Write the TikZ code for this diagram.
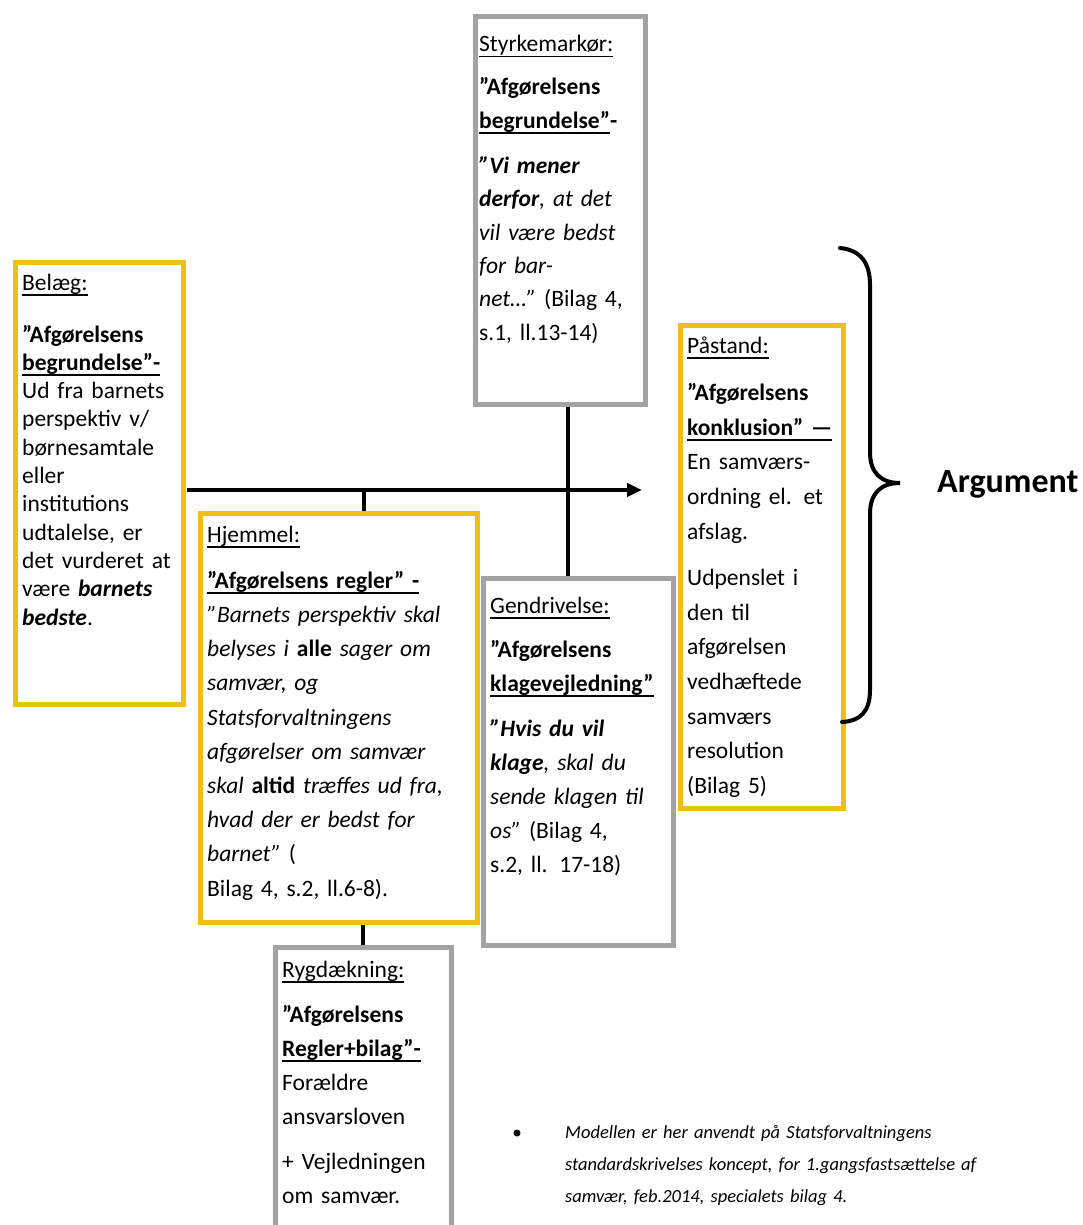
\documentclass[tikz,border=0pt]{standalone}
\usepackage{fontspec}
\setmainfont{Carlito}
\usetikzlibrary{arrows.meta}

\definecolor{gold}{RGB}{240,190,20}
\definecolor{framegrey}{RGB}{163,163,163}

% underline at a fixed depth below the baseline
\newcommand\uln[1]{\leavevmode\setbox0\hbox{#1}\rlap{\rule[-5.5pt]{\wd0}{1.8pt}}\box0}

\tikzset{
  goldbox/.style={draw=gold, line width=5pt, inner sep=0pt, anchor=north west},
  greybox/.style={draw=framegrey, line width=5pt, inner sep=0pt, anchor=north west},
  boxtext/.style={anchor=base west, inner sep=0pt, text width=330pt, align=left,
    font=\fontsize{23.5}{#1}\selectfont},
  conn/.style={draw=black, line width=4pt},
}

\begin{document}
\begin{tikzpicture}[x=1pt,y=-1pt]
\useasboundingbox (0,0) rectangle (1083,1225);
\clip (0,0) rectangle (1083,1225);

% frames
\node[goldbox, minimum width=168, minimum height=442] (belaeg) at (12.5,259.5) {};
\node[goldbox, minimum width=277, minimum height=409] (hjemmel) at (197.5,510.5) {};
\node[greybox, minimum width=170, minimum height=387] (styrke) at (472.5,14.5) {};
\node[greybox, minimum width=190, minimum height=367] (gendriv) at (480.5,575.5) {};
\node[goldbox, minimum width=163, minimum height=483] (paastand) at (677.5,322.5) {};
\node[greybox, minimum width=176, minimum height=330] (rygd) at (272.5,944.5) {};

% texts
\node[boxtext=28.3pt] (belaegT) at (22,290) {%
\uln{Belæg:}\\[23.7pt]
\textbf{”Afgørelsens}\\
\uln{\textbf{begrundelse”-}}\\
Ud fra barnets\\
perspektiv v/\\
børnesamtale\\
eller\\
institutions\\
udtalelse, er\\
det vurderet at\\
være \textbf{\textit{barnets}}\\
\textbf{\textit{bedste}}.};

\node[boxtext=34.2pt] (hjemmelT) at (207,542) {%
\uln{Hjemmel:}\\[12pt]
\uln{\textbf{”Afgørelsens regler” -}}\\
\textit{”Barnets perspektiv skal}\\
\textit{belyses i \textbf{\upshape alle} sager om}\\
\textit{samvær, og}\\
\textit{Statsforvaltningens}\\
\textit{afgørelser om samvær}\\
\textit{skal \textbf{\upshape altid} træffes ud fra,}\\
\textit{hvad der er bedst for}\\
\textit{barnet”} (\\
Bilag 4, s.2, ll.6-8).};

\node[boxtext=33.4pt] (styrkeT) at (479,52) {%
\uln{Styrkemarkør:}\\[9.6pt]
\textbf{”Afgørelsens}\\
\uln{\textbf{begrundelse”}}\textbf{-}\\[11.6pt]
\textit{\textbf{”Vi mener}}\\
\textit{\textbf{derfor}, at det}\\
\textit{vil være bedst}\\
\textit{for bar-}\\
\textit{net…”} (Bilag 4,\\
s.1, ll.13-14)};

\node[boxtext=34pt] (gendrivT) at (490,613) {%
\uln{Gendrivelse:}\\[10pt]
\textbf{”Afgørelsens}\\
\uln{\textbf{klagevejledning”}}\\[11pt]
\textit{\textbf{”Hvis du vil}}\\
\textit{\textbf{klage}, skal du}\\
\textit{sende klagen til}\\
\textit{os”} (Bilag 4,\\
s.2, ll. 17-18)};

\node[boxtext=34.6pt] (paastandT) at (687,353) {%
\uln{Påstand:}\\[13pt]
\textbf{”Afgørelsens}\\
\uln{\textbf{konklusion” —}}\\
En samværs-\\
ordning el. et\\
afslag.\\[12pt]
Udpenslet i\\
den til\\
afgørelsen\\
vedhæftede\\
samværs\\
resolution\\
(Bilag 5)};

\node[boxtext=34pt] (rygdT) at (282,977) {%
\uln{Rygdækning:}\\[11pt]
\textbf{”Afgørelsens}\\
\uln{\textbf{Regler+bilag”-}}\\
Forældre\\
ansvarsloven\\[11pt]
+ Vejledningen\\
om samvær.};

% connectors
\coordinate (arrowstart) at (187,490);
\coordinate (arrowend) at (642,490);
\coordinate (hjtick) at (364,490);
\draw[conn, -{Triangle[length=15pt,width=13pt]}] (arrowstart) -- (arrowend);
\draw[conn] (hjtick) -- (hjtick |- hjemmel.north);
\draw[conn] ([xshift=7.5pt]styrke.south) -- ([xshift=7.5pt]styrke.south |- gendriv.north);
\draw[conn] ([xshift=24pt]hjemmel.south) -- ([xshift=24pt]hjemmel.south |- rygd.north);

% curly brace grouping the argument
\draw[line width=4pt, line cap=round]
  (840,248) .. controls (860,250) and (870,262) .. (870,285)
  -- (870,452) .. controls (870,474) and (882,483) .. (900,483)
  .. controls (882,483) and (870,492) .. (870,514)
  -- (870,690) .. controls (870,712) and (860,721) .. (842,722);
\node[anchor=base west, inner sep=0pt, font=\bfseries\fontsize{34}{40}\selectfont] (argument) at (937,492) {Argument};

% note
\node[circle, fill=black, inner sep=0pt, minimum size=7pt] (bullet) at (517,1133) {};
\node[anchor=base west, inner sep=0pt, text width=500pt, align=left, font=\itshape\fontsize{18.5}{32}\selectfont] (note) at (565,1138) {%
Modellen er her anvendt på Statsforvaltningens\\
standardskrivelses koncept, for 1.gangsfastsættelse af\\
samvær, feb.2014, specialets bilag 4.};
\end{tikzpicture}
\end{document}
